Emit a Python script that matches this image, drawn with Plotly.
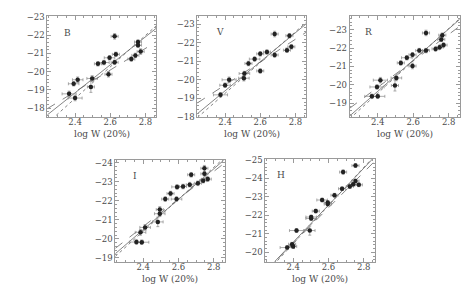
import plotly.graph_objects as go

W, H = 469, 287

# ---------------- data ----------------
bands = ["B", "V", "R", "I", "H"]

B_logw = [2.625, 2.758, 2.758, 2.773, 2.743, 2.720, 2.632, 2.596, 2.564, 2.530, 2.625, 2.590, 2.497, 2.415, 2.392, 2.490, 2.366, 2.400]
B_mag = [-21.93, -21.62, -21.45, -21.10, -20.89, -20.69, -20.95, -20.76, -20.50, -20.43, -20.51, -19.86, -19.63, -19.56, -19.34, -19.17, -18.79, -18.56]
B_ex = [0.02, 0.02, 0.02, 0.02, 0.02, 0.02, 0.02, 0.03, 0.03, 0.02, 0.02, 0.02, 0.03, 0.03, 0.03, 0.02, 0.04, 0.04]
B_ey = [0.15, 0.12, 0.12, 0.15, 0.12, 0.12, 0.12, 0.12, 0.12, 0.12, 0.12, 0.15, 0.15, 0.15, 0.12, 0.30, 0.15, 0.15]

V_logw = [2.682, 2.766, 2.777, 2.752, 2.682, 2.638, 2.600, 2.568, 2.533, 2.600, 2.510, 2.507, 2.423, 2.400, 2.374]
V_mag = [-22.47, -22.38, -21.78, -21.60, -21.34, -21.50, -21.40, -21.12, -20.88, -20.48, -20.34, -20.09, -20.00, -19.71, -19.19]
V_ex = [0.02, 0.02, 0.02, 0.02, 0.02, 0.02, 0.02, 0.03, 0.02, 0.02, 0.03, 0.03, 0.04, 0.03, 0.04]
V_ey = [0.15, 0.12, 0.12, 0.12, 0.12, 0.12, 0.12, 0.12, 0.12, 0.12, 0.12, 0.15, 0.15, 0.12, 0.12]

R_logw = [2.672, 2.764, 2.758, 2.771, 2.749, 2.726, 2.672, 2.634, 2.596, 2.564, 2.530, 2.596, 2.505, 2.497, 2.415, 2.396, 2.367, 2.400]
R_mag = [-22.82, -22.70, -22.47, -22.16, -22.04, -21.95, -21.86, -21.86, -21.63, -21.47, -21.19, -21.02, -20.37, -19.96, -20.25, -19.88, -19.37, -19.37]
R_ex = [0.02, 0.02, 0.02, 0.02, 0.02, 0.02, 0.02, 0.02, 0.02, 0.03, 0.02, 0.02, 0.03, 0.02, 0.04, 0.04, 0.04, 0.04]
R_ey = [0.15, 0.12, 0.12, 0.12, 0.12, 0.12, 0.12, 0.12, 0.12, 0.12, 0.12, 0.15, 0.15, 0.30, 0.15, 0.12, 0.12, 0.12]

I_logw = [2.672, 2.747, 2.747, 2.766, 2.740, 2.710, 2.664, 2.626, 2.592, 2.555, 2.525, 2.589, 2.494, 2.494, 2.483, 2.411, 2.385, 2.362, 2.392]
I_mag = [-23.37, -23.71, -23.42, -23.14, -23.06, -22.92, -22.85, -22.75, -22.73, -22.38, -22.09, -22.09, -21.54, -21.32, -20.89, -20.60, -20.34, -19.83, -19.82]
I_ex = [0.02, 0.02, 0.02, 0.02, 0.02, 0.02, 0.02, 0.02, 0.03, 0.02, 0.02, 0.03, 0.02, 0.03, 0.03, 0.03, 0.03, 0.04, 0.04]
I_ey = [0.12, 0.15, 0.12, 0.12, 0.12, 0.12, 0.12, 0.12, 0.12, 0.12, 0.12, 0.12, 0.15, 0.15, 0.25, 0.15, 0.15, 0.12, 0.12]

H_logw = [2.753, 2.683, 2.753, 2.740, 2.772, 2.721, 2.677, 2.634, 2.596, 2.596, 2.564, 2.528, 2.502, 2.502, 2.494, 2.419, 2.394, 2.400, 2.366]
H_mag = [-24.69, -24.34, -23.86, -23.68, -23.65, -23.56, -23.44, -23.09, -22.69, -22.61, -22.83, -22.23, -21.91, -21.83, -21.18, -21.18, -20.44, -20.32, -20.26]
H_ex = [0.02, 0.02, 0.02, 0.02, 0.02, 0.02, 0.02, 0.02, 0.02, 0.02, 0.03, 0.02, 0.03, 0.03, 0.03, 0.04, 0.02, 0.02, 0.04]
H_ey = [0.10, 0.12, 0.10, 0.10, 0.10, 0.10, 0.10, 0.10, 0.10, 0.10, 0.10, 0.10, 0.10, 0.10, 0.25, 0.10, 0.10, 0.10, 0.10]

# fits: (zero point at log W = 2.5, slope)
B_fits = {"solid": (-19.61, -7.64), "dot": (-19.40, -8.60), "dash": (-19.50, -5.90)}
V_fits = {"solid": (-20.19, -7.83), "dot": (-20.10, -8.30), "dash": (-20.34, -6.16)}
R_fits = {"solid": (-20.49, -8.49), "dot": (-20.42, -8.80), "dash": (-20.58, -7.20)}
I_fits = {"solid": (-21.28, -8.00), "dot": (-21.24, -8.40), "dash": (-21.37, -7.25)}
H_fits = {"solid": (-21.55, -10.00), "dot": (-21.50, -10.30), "dash": (-21.45, -9.60)}

x_range = [2.242, 2.862]
x_ticks = [2.4, 2.6, 2.8]
x_ticklabels = ["2.4", "2.6", "2.8"]
y_ranges = {"B": [-17.53, -23.05], "V": [-18.0, -23.45], "R": [-18.25, -23.75],
            "I": [-18.8, -24.12], "H": [-19.5, -25.05]}
y_ticks = {"B": [-23, -22, -21, -20, -19, -18], "V": [-23, -22, -21, -20, -19, -18],
           "R": [-23, -22, -21, -20, -19], "I": [-24, -23, -22, -21, -20, -19],
           "H": [-25, -24, -23, -22, -21, -20]}
y_ticklabels = {"B": ["\u221223", "\u221222", "\u221221", "\u221220", "\u221219", "\u221218"],
                "V": ["\u221223", "\u221222", "\u221221", "\u221220", "\u221219", "\u221218"],
                "R": ["\u221223", "\u221222", "\u221221", "\u221220", "\u221219"],
                "I": ["\u221224", "\u221223", "\u221222", "\u221221", "\u221220", "\u221219"],
                "H": ["\u221225", "\u221224", "\u221223", "\u221222", "\u221221", "\u221220"]}

data = {
    "B": (B_logw, B_mag, B_ex, B_ey, B_fits),
    "V": (V_logw, V_mag, V_ex, V_ey, V_fits),
    "R": (R_logw, R_mag, R_ex, R_ey, R_fits),
    "I": (I_logw, I_mag, I_ex, I_ey, I_fits),
    "H": (H_logw, H_mag, H_ex, H_ey, H_fits),
}

# ---------------- layout (pixel boxes) ----------------
boxes = {  # left, right, top, bottom in pixels
    "B": (39.3, 148.3, 4.0, 108.3),
    "V": (189.3, 298.3, 4.0, 108.3),
    "R": (341.7, 451.7, 4.0, 108.3),
    "I": (107.3, 216.7, 153.3, 257.7),
    "H": (257.3, 366.7, 151.7, 257.7),
}
letter_pos = {"B": (59, 22), "V": (212, 21), "R": (360, 21), "I": (127, 169), "H": (273, 168)}

FONT = "DejaVu Serif"
TXT = "#4a4a4a"
AX = "#9a9a9a"
PT = "#222222"

fig = go.Figure()
layout = dict(width=W, height=H, margin=dict(l=0, r=0, t=0, b=0),
              paper_bgcolor="white", plot_bgcolor="white", showlegend=False)
annotations = []

for i, b in enumerate(bands):
    n = "" if i == 0 else str(i + 1)
    xs, ys, ex, ey, fits = data[b]
    l, r, t, bt = boxes[b]
    xa = dict(domain=[l / W, r / W], range=x_range, anchor="y" + n,
              showgrid=False, zeroline=False, showline=True, linecolor=AX, linewidth=1,
              mirror="allticks", ticks="inside", ticklen=4, tickcolor=AX, tickwidth=0.8,
              tickmode="array", tickvals=x_ticks, ticktext=x_ticklabels, ticklabelstandoff=-3,
              tickfont=dict(family=FONT, size=8.5, color=TXT),
              minor=dict(ticks="inside", ticklen=2, tickcolor=AX, dtick=0.05, tick0=2.4, showgrid=False))
    ya = dict(domain=[1 - bt / H, 1 - t / H], range=y_ranges[b], anchor="x" + n,
              showgrid=False, zeroline=False, showline=True, linecolor=AX, linewidth=1,
              mirror="allticks", ticks="inside", ticklen=4, tickcolor=AX, tickwidth=0.8,
              tickmode="array", tickvals=y_ticks[b], ticktext=y_ticklabels[b],
              tickfont=dict(family=FONT, size=8.5, color=TXT),
              minor=dict(ticks="inside", ticklen=2, tickcolor=AX, dtick=0.2, tick0=0, showgrid=False))
    layout["xaxis" + n] = xa
    layout["yaxis" + n] = ya

    # fit lines
    xl = [x_range[0], x_range[1]]
    for style, (zp, slope) in fits.items():
        yl = [zp + slope * (x - 2.5) for x in xl]
        fig.add_trace(go.Scatter(x=xl, y=yl, mode="lines", xaxis="x" + n, yaxis="y" + n,
                                 line=dict(color="#666666", width=0.8, dash=style),
                                 hoverinfo="skip", cliponaxis=True))
    # points
    fig.add_trace(go.Scatter(
        x=xs, y=ys, mode="markers", xaxis="x" + n, yaxis="y" + n,
        marker=dict(symbol="circle", size=4.5, color=PT),
        error_x=dict(type="data", array=ex, color="#888888", thickness=0.7, width=1.5),
        error_y=dict(type="data", array=ey, color="#888888", thickness=0.7, width=1.5)))

    # x-axis title
    annotations.append(dict(text="log W (20%)", xref="paper", yref="paper",
                            x=(l + r) / 2 / W, y=1 - (bt + 17.5) / H, showarrow=False,
                            xanchor="center", yanchor="middle",
                            font=dict(family=FONT, size=9, color=TXT)))
    lx, ly = letter_pos[b]
    annotations.append(dict(text=b, xref="paper", yref="paper", x=lx / W, y=1 - ly / H,
                            showarrow=False, xanchor="center", yanchor="middle",
                            font=dict(family=FONT, size=9, color=TXT)))

layout["annotations"] = annotations
fig.update_layout(**layout)
fig.write_html("out.html")
